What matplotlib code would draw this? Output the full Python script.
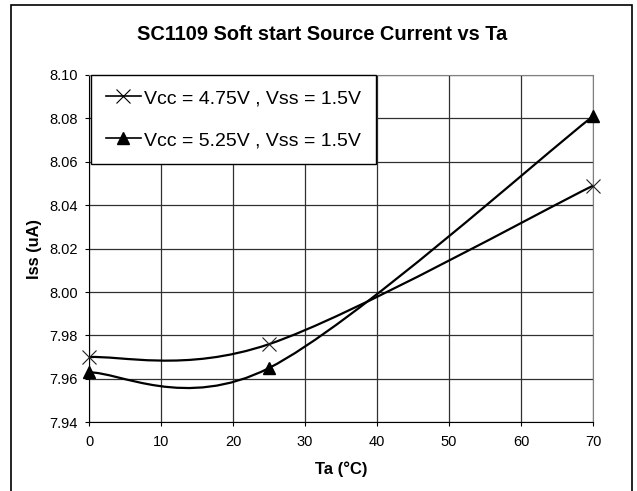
import matplotlib
matplotlib.use('Agg')
import matplotlib.pyplot as plt
from matplotlib.path import Path
from matplotlib.patches import PathPatch, Rectangle
from matplotlib.lines import Line2D

plt.rcParams['font.family'] = ['Liberation Sans', 'DejaVu Sans']

# data
ta = [0, 25, 70]
iss_475 = [7.970, 7.976, 8.049]
iss_525 = [7.963, 7.965, 8.081]
label_475 = 'Vcc = 4.75V , Vss = 1.5V'
label_525 = 'Vcc = 5.25V , Vss = 1.5V'
x_ticks = [0, 10, 20, 30, 40, 50, 60, 70]
y_ticks = [7.94, 7.96, 7.98, 8.00, 8.02, 8.04, 8.06, 8.08, 8.10]


def smooth_path(xs, ys):
    """Excel-like smoothed line: cubic Bezier segments through the data points."""
    pts = list(zip(xs, ys))
    n = len(pts)
    verts = [pts[0]]
    codes = [Path.MOVETO]
    for i in range(n - 1):
        p0 = pts[max(i - 1, 0)]
        p1 = pts[i]
        p2 = pts[i + 1]
        p3 = pts[min(i + 2, n - 1)]
        c1 = (p1[0] + (p2[0] - p0[0]) / 6, p1[1] + (p2[1] - p0[1]) / 6)
        c2 = (p2[0] - (p3[0] - p1[0]) / 6, p2[1] - (p3[1] - p1[1]) / 6)
        verts += [c1, c2, p2]
        codes += [Path.CURVE4] * 3
    return Path(verts, codes)


fig = plt.figure(figsize=(6.37, 4.91), dpi=100)
ax = fig.add_axes([89 / 637, 68.7 / 491, 504 / 637, 347.3 / 491])

# outer chart border (bottom edge falls outside the image, as in the reference)
fig.patches.append(Rectangle((11 / 637, -0.05), 621 / 637, 1.05 - 5.5 / 491,
                             transform=fig.transFigure, fill=False,
                             edgecolor='black', linewidth=1.2))

ax.set_xlim(0, 70)
ax.set_ylim(7.94, 8.10)
ax.set_xticks(x_ticks)
ax.set_yticks(y_ticks)
ax.set_yticklabels([f'{v:.2f}' for v in y_ticks])
ax.grid(True, color='#303030', linewidth=0.9)
ax.set_axisbelow(True)
for side in ['top', 'right']:
    ax.spines[side].set_color('#808080')
for side in ['left', 'bottom']:
    ax.spines[side].set_color('black')
ax.tick_params(axis='both', direction='out', length=3, width=0.8, labelsize=10.5)
ax.tick_params(axis='x', pad=6)
ax.tick_params(axis='y', pad=5)

for ys in [iss_475, iss_525]:
    ax.add_patch(PathPatch(smooth_path(ta, ys), facecolor='none',
                           edgecolor='black', linewidth=1.6, zorder=3))

ax.plot(ta, iss_475, linestyle='none', marker='x', markersize=10,
        markeredgewidth=0.8, color='#202020', zorder=4, clip_on=False)
ax.plot(ta, iss_525, linestyle='none', marker='^', markersize=9,
        color='black', zorder=4, clip_on=False)

ax.set_xlabel('Ta (°C)', fontsize=12, fontweight='bold', labelpad=9)
ax.set_ylabel('Iss (uA)', fontsize=11.8, fontweight='bold', labelpad=5)
fig.text(322 / 637, 1 - 35 / 491, 'SC1109 Soft start Source Current vs Ta',
         ha='center', va='center', fontsize=14.4, fontweight='bold')

handles = [
    Line2D([], [], color='black', linewidth=1.2, marker='x', markersize=10,
           markeredgewidth=0.8, label=label_475),
    Line2D([], [], color='black', linewidth=1.2, marker='^', markersize=9,
           label=label_525),
]
leg = ax.legend(handles=handles, loc='upper left', bbox_to_anchor=(0.004, 1.0),
                borderaxespad=0, fontsize=14, frameon=True, fancybox=False,
                edgecolor='black', framealpha=1, handlelength=1.8,
                handletextpad=0.2, labelspacing=1.25, borderpad=0.75)
leg.get_frame().set_linewidth(1.0)
leg.set_zorder(5)

fig.savefig('out.png', dpi=100)
